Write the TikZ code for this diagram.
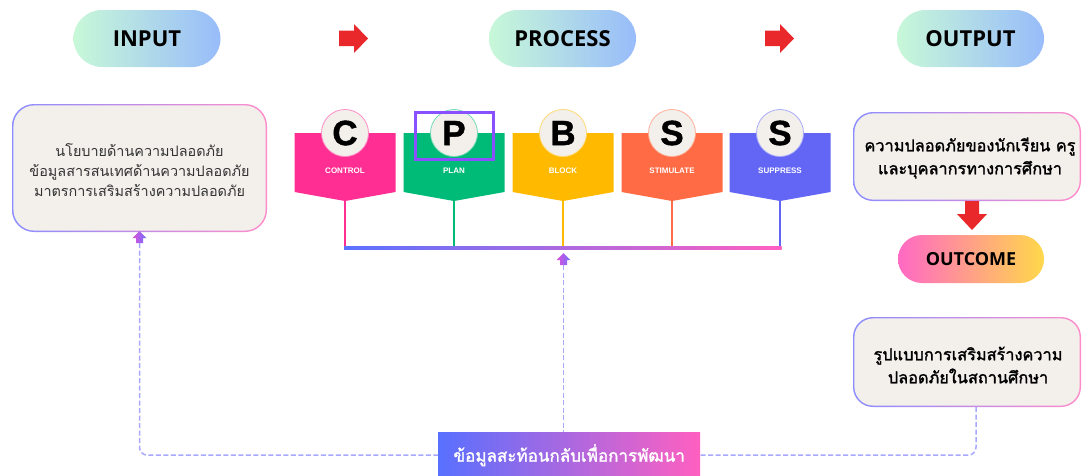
\documentclass[tikz,border=0pt]{standalone}
\usepackage{fontspec}
\usetikzlibrary{shapes.misc}
\newfontfamily\thaifont[Script=Thai]{Loma}
\newfontfamily\thaibold[Script=Thai, FakeBold=1.6]{Loma}
\newfontfamily\headfont{Open Sans}
\newfontfamily\letterfont[FakeBold=1.2]{Liberation Sans}
\newfontfamily\labfont{Liberation Sans}
\definecolor{pillL}{HTML}{C8F8D8}
\definecolor{pillR}{HTML}{98BCFA}
\definecolor{outL}{HTML}{FF69C4}
\definecolor{outR}{HTML}{FFD84A}
\definecolor{redA}{HTML}{E8282B}
\definecolor{cream}{HTML}{F3F0EC}
\definecolor{bdL}{HTML}{8A8CFF}
\definecolor{bdR}{HTML}{FF8CCB}
\definecolor{txt}{HTML}{333333}
\definecolor{cC}{HTML}{FF2E93}
\definecolor{cP}{HTML}{00BA78}
\definecolor{cB}{HTML}{FFBA00}
\definecolor{cS}{HTML}{FF6B45}
\definecolor{cSS}{HTML}{6366F5}
\definecolor{hl}{HTML}{8A4FFF}
\definecolor{barL}{HTML}{5A72FF}
\definecolor{barM}{HTML}{A860E0}
\definecolor{barR}{HTML}{FF60C0}
\definecolor{fbL}{HTML}{5870FF}
\definecolor{fbR}{HTML}{FF60C0}
\definecolor{dash}{HTML}{A8A8FF}
\definecolor{upL}{HTML}{E050D8}
\definecolor{upR}{HTML}{7070FF}
\begin{document}
\begin{tikzpicture}[x=1pt,y=-1pt,
  pill/.style={rounded rectangle, minimum width=147, minimum height=57, inner sep=0,
    left color=pillL, right color=pillR, text=black,
    font=\headfont\bfseries\fontsize{22}{22}\selectfont},
  boxtext/.style={align=center, text=black, font=\thaibold\fontsize{16.3}{23}\selectfont},
  fbline/.style={draw=dash, line width=1.5, dash pattern=on 5pt off 2.5pt, rounded corners=8},
  letter/.style={circle, minimum size=47, inner sep=0, fill=cream, line width=0.8,
    font=\letterfont\bfseries\fontsize{35}{35}\selectfont, text=black},
  lab/.style={text=white, font=\labfont\bfseries\fontsize{8}{8}\selectfont}
]
\useasboundingbox (0,0) rectangle (1082,475);
\fill[white] (0,0) rectangle (1082,475);

% header pills
\node[pill] (input) at (147,38.5) {INPUT};
\node[pill] (process) at (562.5,38.5) {PROCESS};
\node[pill] (output) at (970.5,38.5) {OUTPUT};

% red arrows
\fill[redA] (339,30.5) -- (354,30.5) -- (354,24) -- (368,38.5) -- (354,53) -- (354,46) -- (339,46) -- cycle;
\fill[redA] (765,30.5) -- (780,30.5) -- (780,24) -- (794,38.5) -- (780,53) -- (780,46) -- (765,46) -- cycle;

% left input box
\shade[left color=bdL, right color=bdR, rounded corners=22] (12,104) rectangle (267,232);
\fill[cream, rounded corners=21] (13.4,105.4) rectangle (265.6,230.6);
\node[align=center, text=txt, font=\thaifont\fontsize{14.4}{20}\selectfont] (inbox) at (139.5,170)
  {นโยบายด้านความปลอดภัย\\ข้อมูลสารสนเทศด้านความปลอดภัย\\มาตรการเสริมสร้างความปลอดภัย};

% process blocks
\foreach \cx/\col/\L/\lab/\nm in {345/cC/C/CONTROL/c, 454/cP/P/PLAN/p, 563/cB/B/BLOCK/b, 672/cS/S/STIMULATE/s, 780/cSS/S/SUPPRESS/ss}{
  \fill[\col] (\cx-50.5,133) -- (\cx+50.5,133) -- (\cx+50.5,192) -- (\cx,201) -- (\cx-50.5,192) -- cycle;
  \coordinate (tip\nm) at (\cx,200);
  \coordinate (bar\nm) at (\cx,248);
  \draw[\col, line width=2.5] (tip\nm) -- (bar\nm);
  \node[letter, draw=\col!55] (let\nm) at (\cx,133) {\L};
  \node[lab] (lab\nm) at (\cx,171) {\lab};
}
\shade[left color=barL, middle color=barM, right color=barR] (344,246.3) rectangle (781.5,249.7);
\node[draw=hl, line width=3, minimum width=78, minimum height=47, inner sep=0] (hlbox) at (454,135.5) {};

% right top box
\shade[left color=bdL, right color=bdR, rounded corners=20] (853,112) rectangle (1081,201);
\fill[cream, rounded corners=19] (854.4,113.4) rectangle (1079.6,199.6);
\node[boxtext] (result) at (970,158) {ความปลอดภัยของนักเรียน ครู\\และบุคลากรทางการศึกษา};

% down arrow
\fill[redA] (965,201) -- (979,201) -- (979,214) -- (987,214) -- (972,230) -- (957,214) -- (965,214) -- cycle;

% outcome
\node[rounded rectangle, minimum width=146, minimum height=48, inner sep=0, left color=outL, right color=outR,
  text=black, font=\headfont\bfseries\fontsize{18}{18}\selectfont] (outcome) at (971,259) {OUTCOME};

% right bottom box
\shade[left color=bdL, right color=bdR, rounded corners=20] (853,317) rectangle (1081,407);
\fill[cream, rounded corners=19] (854.4,318.4) rectangle (1079.6,405.6);
\node[boxtext] (model) at (968,365) {รูปแบบการเสริมสร้างความ\\ปลอดภัยในสถานศึกษา};
\coordinate (modelfoot) at (976,407);

% feedback box
\node[anchor=north west, minimum width=262, minimum height=46, inner sep=0, left color=fbL, right color=fbR,
  text=white, font=\thaibold\fontsize{17}{17}\selectfont] (feedback) at (438,432) {ข้อมูลสะท้อนกลับเพื่อการพัฒนา};

% small up arrows
\shade[left color=upL, right color=upR] (132.5,238) -- (139.5,231) -- (146.5,238) -- (143,238) -- (143,243) -- (136,243) -- (136,238) -- cycle;
\coordinate (upleft) at (139.5,243);
\shade[left color=upL, right color=upR] (556.5,260) -- (563.5,253) -- (570.5,260) -- (567,260) -- (567,265) -- (560,265) -- (560,260) -- cycle;
\coordinate (upmid) at (563.5,265);

% feedback connectors
\draw[fbline] (upleft) |- (feedback.west);
\draw[fbline] (upmid) -- (upmid |- feedback.north);
\draw[fbline] (modelfoot) |- (feedback.east);
\end{tikzpicture}
\end{document}
